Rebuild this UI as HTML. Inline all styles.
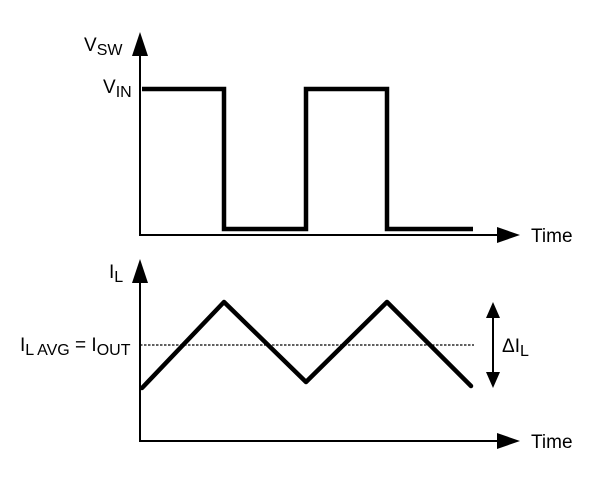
<!DOCTYPE html>
<html><head><style>body{margin:0;background:#fff}svg{display:block}text{font-family:"Liberation Sans",sans-serif;fill:#000}</style></head><body>
<svg width="600" height="477" viewBox="0 0 600 477">
<g stroke="#000" stroke-width="2" fill="none">
<line x1="140" y1="236" x2="140" y2="52"/>
<line x1="140" y1="235" x2="500" y2="235"/>
<line x1="140" y1="442" x2="140" y2="280"/>
<line x1="140" y1="441" x2="500" y2="441"/>
<line x1="493" y1="315" x2="493" y2="375"/>
</g>
<g fill="#000">
<polygon points="140,32 132,56 148,56"/>
<polygon points="520,235 497,227 497,243"/>
<polygon points="140,259 132,283 148,283"/>
<polygon points="520,441 497,433 497,449"/>
<polygon points="493,302 486,318 500,318"/>
<polygon points="493,388 486,372 500,372"/>
</g>
<polyline points="142,89 224,89 224,229 306,229 306,89 387,89 387,229 473,229" stroke="#000" stroke-width="4.5" fill="none" stroke-linejoin="miter"/>
<polyline points="142,388 224,302 306,382 387,302 471,386" stroke="#000" stroke-width="4.5" fill="none" stroke-linecap="round" stroke-linejoin="round"/>
<line x1="140" y1="345" x2="474" y2="345" stroke="#000" stroke-width="1.3" stroke-dasharray="2.5,1.5"/>
<text x="84" y="51" font-size="19">V<tspan font-size="16" dy="4">SW</tspan></text>
<text x="103" y="93" font-size="19">V<tspan font-size="16" dy="4">IN</tspan></text>
<text x="109" y="278" font-size="19">I<tspan font-size="16" dy="4">L</tspan></text>
<text x="20" y="351" font-size="19">I<tspan font-size="16" dy="4">L AVG</tspan><tspan dy="-4"> = I</tspan><tspan font-size="16" dy="4">OUT</tspan></text>
<text x="502" y="352" font-size="19">ΔI<tspan font-size="16" dy="4">L</tspan></text>
<text x="531" y="242" font-size="19">Time</text>
<text x="531" y="448" font-size="19">Time</text>
</svg>
</body></html>
